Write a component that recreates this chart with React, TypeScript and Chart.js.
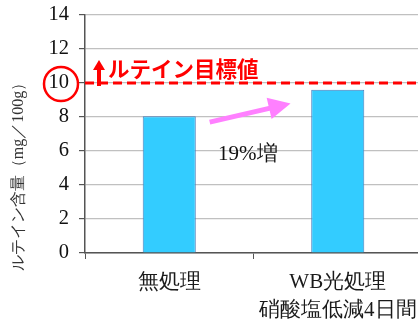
import React, { useEffect, useRef } from "react";
import { Chart, registerables } from "chart.js";

Chart.register(...registerables);

const categories: string[][] = [["無処理"], ["WB光処理", "硝酸塩低減4日間"]];
const luteinValues: number[] = [8.05, 9.6];
const targetValue = 10;
const yTicks: number[] = [0, 2, 4, 6, 8, 10, 12, 14];
const yTitle = "ルテイン含量（mg／100g）";
const targetLabel = "ルテイン目標値";
const increaseLabel = "19%増";

const SERIF = '"Liberation Serif", serif';
const CJK = '"Noto Sans CJK JP", sans-serif';

const annotationPlugin = {
  id: "luteinAnnotations",
  afterDraw(chart: any) {
    const { ctx, chartArea, scales } = chart;
    const x = scales.x;
    const y = scales.y;
    const yT = y.getPixelForValue(targetValue);
    const x0 = x.getPixelForValue(0);
    const x1 = x.getPixelForValue(1);
    const span = x1 - x0;

    ctx.save();

    // target dashed line
    ctx.strokeStyle = "#ff0000";
    ctx.lineWidth = 3;
    ctx.setLineDash([9, 5]);
    ctx.beginPath();
    ctx.moveTo(chartArea.left, yT);
    ctx.lineTo(chartArea.right, yT);
    ctx.stroke();
    ctx.setLineDash([]);

    // small upward arrow at the start of the target line
    const ax = chartArea.left + 14;
    ctx.fillStyle = "#ff0000";
    ctx.fillRect(ax - 2, yT - 14, 4, 17);
    ctx.beginPath();
    ctx.moveTo(ax, yT - 23);
    ctx.lineTo(ax - 6, yT - 13);
    ctx.lineTo(ax + 6, yT - 13);
    ctx.closePath();
    ctx.fill();

    // target label
    ctx.font = `bold 21.5px ${CJK}`;
    ctx.textAlign = "left";
    ctx.textBaseline = "alphabetic";
    ctx.fillText(targetLabel, ax + 9, yT - 6);

    // circle around the "10" tick label
    ctx.strokeStyle = "#ff0000";
    ctx.lineWidth = 2.5;
    ctx.beginPath();
    ctx.arc(chartArea.left - 24, yT + 1, 17, 0, Math.PI * 2);
    ctx.stroke();

    // pink increase arrow between bars
    const sx = x0 + span * 0.24;
    const sy = y.getPixelForValue(7.7);
    const tx = x0 + span * 0.72;
    const ty = y.getPixelForValue(8.8);
    const ang = Math.atan2(ty - sy, tx - sx);
    const headLen = 22;
    const headHalf = 11;
    const bx = tx - headLen * Math.cos(ang);
    const by = ty - headLen * Math.sin(ang);
    const nx = -Math.sin(ang);
    const ny = Math.cos(ang);
    ctx.fillStyle = "#ff80ff";
    ctx.beginPath();
    ctx.moveTo(sx + nx * 2.5, sy + ny * 2.5);
    ctx.lineTo(bx + nx * 2.5, by + ny * 2.5);
    ctx.lineTo(bx + nx * headHalf, by + ny * headHalf);
    ctx.lineTo(tx, ty);
    ctx.lineTo(bx - nx * headHalf, by - ny * headHalf);
    ctx.lineTo(bx - nx * 2.5, by - ny * 2.5);
    ctx.lineTo(sx - nx * 2.5, sy - ny * 2.5);
    ctx.closePath();
    ctx.fill();

    // increase label
    ctx.fillStyle = "#111111";
    ctx.font = `21px ${SERIF}`;
    ctx.fillText(increaseLabel, x0 + span * 0.29, y.getPixelForValue(5.5));

    // y axis title
    ctx.translate(19, (chartArea.top + chartArea.bottom) / 2 + 39);
    ctx.rotate(-Math.PI / 2);
    ctx.fillStyle = "#333333";
    ctx.font = `16px ${SERIF}`;
    ctx.textAlign = "center";
    ctx.textBaseline = "middle";
    ctx.fillText(yTitle, 0, 0);

    ctx.restore();
  },
};

export default function App() {
  const canvasRef = useRef<HTMLCanvasElement | null>(null);

  useEffect(() => {
    if (!canvasRef.current) return;
    const chart = new Chart(canvasRef.current, {
      type: "bar",
      data: {
        labels: categories,
        datasets: [
          {
            data: luteinValues,
            backgroundColor: "#33ccff",
            borderColor: "#4a7ebb",
            borderWidth: 1,
            barPercentage: 0.315,
            categoryPercentage: 1,
          },
        ],
      },
      options: {
        animation: false,
        responsive: false,
        maintainAspectRatio: false,
        layout: { padding: { top: 15, right: 0, left: 0, bottom: 0 } },
        plugins: {
          legend: { display: false },
          tooltip: { enabled: false },
        },
        scales: {
          x: {
            offset: true,
            grid: {
              offset: true,
              drawOnChartArea: false,
              tickLength: 6,
              tickColor: "#555555",
            },
            border: { color: "#555555", width: 1.5 },
            ticks: {
              color: "#1a1a1a",
              font: { family: SERIF, size: 21, lineHeight: 1.33 },
              padding: 10,
              maxRotation: 0,
            },
            afterFit(scale: any) {
              scale.height = 72;
              scale.paddingLeft = 0;
              scale.paddingRight = 0;
            },
          },
          y: {
            min: 0,
            max: 14,
            afterBuildTicks(scale: any) {
              scale.ticks = yTicks.map((v) => ({ value: v }));
            },
            grid: {
              color: "#c0c0c0",
              lineWidth: 1.2,
              tickLength: 6,
              tickColor: "#555555",
            },
            border: { color: "#555555", width: 1.5 },
            ticks: {
              color: "#111111",
              font: { family: SERIF, size: 20.5 },
              padding: 10,
            },
            afterFit(scale: any) {
              scale.width = 85;
              scale.paddingTop = 0;
              scale.paddingBottom = 0;
            },
          },
        },
      },
      plugins: [annotationPlugin],
    });
    return () => chart.destroy();
  }, []);

  return (
    <div
      style={{
        position: "fixed",
        left: 0,
        top: 0,
        width: 418,
        height: 325,
        overflow: "hidden",
        background: "#ffffff",
      }}
    >
      <canvas ref={canvasRef} width={422} height={325} style={{ display: "block" }} />
    </div>
  );
}
